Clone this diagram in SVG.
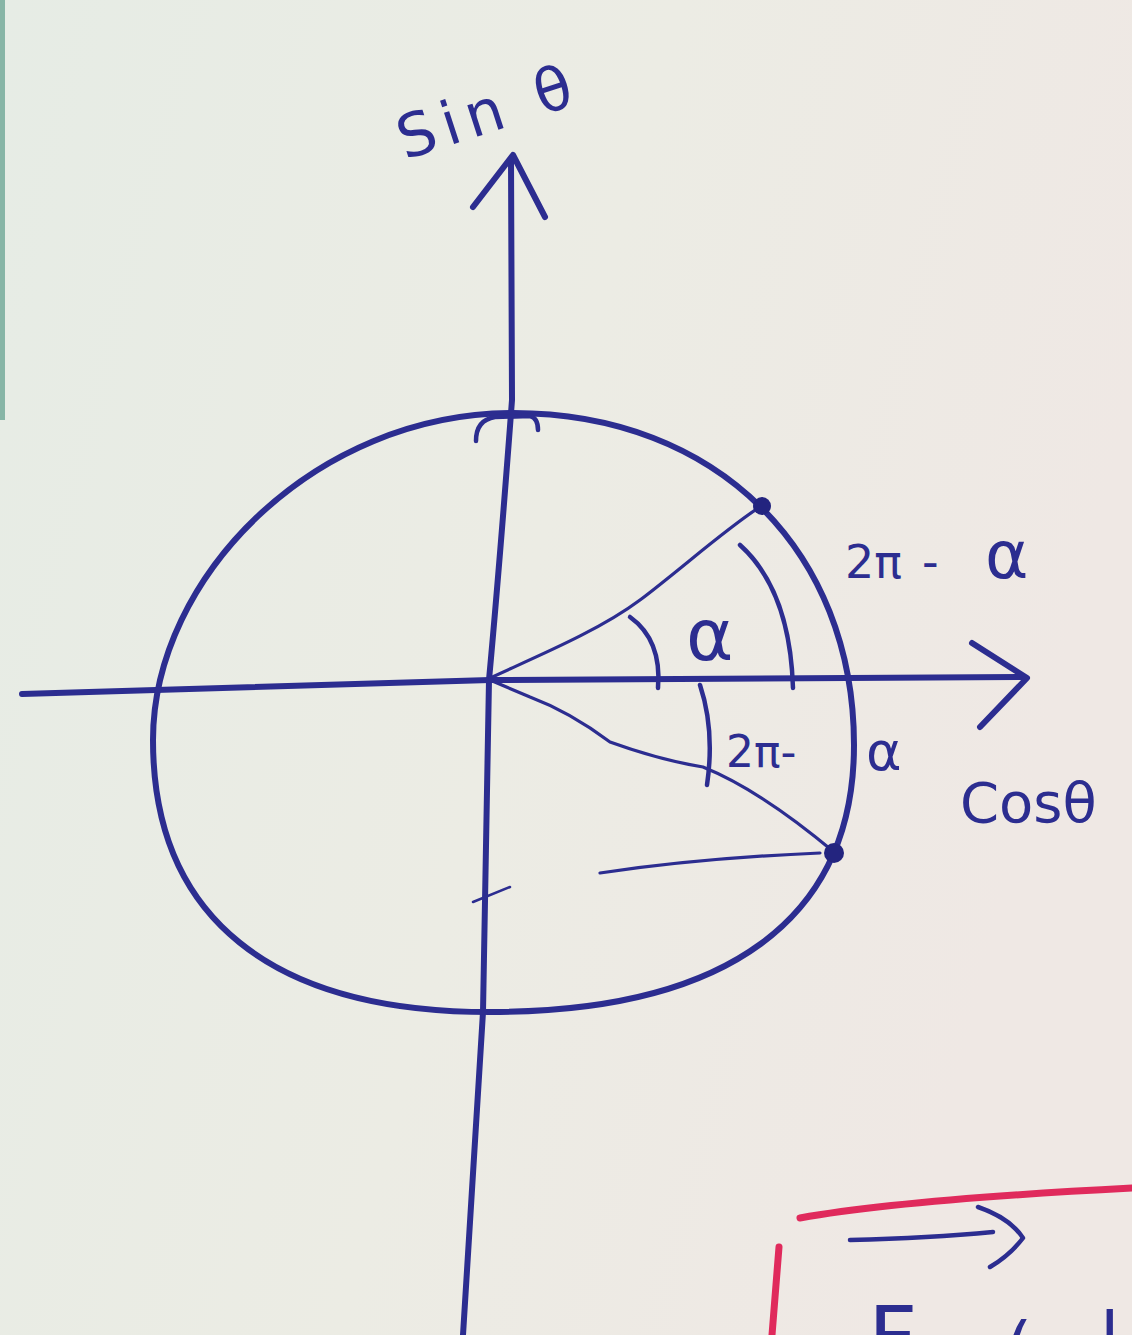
<svg xmlns="http://www.w3.org/2000/svg" width="1132" height="1335" viewBox="0 0 1132 1335">
<defs>
<linearGradient id="paper" x1="0" y1="0" x2="1" y2="0.3">
<stop offset="0" stop-color="#e6ece5"/>
<stop offset="0.55" stop-color="#ecece4"/>
<stop offset="1" stop-color="#efe8e4"/>
</linearGradient>
<style>
.ink{fill:none;stroke:#2c2d90;stroke-linecap:round;stroke-linejoin:round}
.thick{stroke-width:6}
.mid{stroke-width:4.5}
.thin{stroke-width:3.2}
.red{fill:none;stroke:#e02a5c;stroke-width:7;stroke-linecap:round}
.lbl{fill:#2c2d90;font-family:"DejaVu Sans","Liberation Sans",sans-serif}
.dot{fill:#23247f}
</style>
</defs>
<rect width="1132" height="1335" fill="url(#paper)"/>
<rect x="0" y="0" width="5" height="420" fill="#6fa896" opacity="0.8"/>

<g id="connectors">
<g id="y-axis">
<path class="ink thick" d="M511,160 L512,400 Q500,560 489,680 L483,1012 L463,1335"/>
<path class="ink thick" d="M473,207 L513,155 L545,217"/>
</g>
<g id="x-axis">
<path class="ink thick" d="M22,694 L490,680 L1022,677"/>
<path class="ink thick" d="M972,643 L1027,678 L980,727"/>
</g>
<g id="radius-upper">
<path class="ink thin" d="M490,678 C540,655 600,630 640,600 S730,525 763,505"/>
</g>
<g id="radius-lower">
<path class="ink thin" d="M490,680 L530,697 Q570,712 610,742 Q660,760 703,767 Q760,790 834,852"/>
</g>
<g id="projection">
<path class="ink thin" d="M600,873 Q700,858 820,853"/>
<path class="ink" stroke-width="2.5" d="M473,902 L510,887"/>
</g>
</g>

<g id="unit-circle">
<path class="ink thick" d="M513,413 C718,413 854,552 854,745 C854,919 727,1012 490,1012 C271,1012 153,917 153,740 C153,577 315,413 513,413 Z"/>
<path class="ink mid" d="M476,441 Q476,420 495,417 L530,416 Q538,418 538,430"/>
</g>

<g id="angle-arcs">
<path class="ink mid" d="M630,617 Q662,640 658,688"/>
<path class="ink mid" d="M740,545 Q790,590 793,688"/>
<path class="ink mid" d="M700,685 Q715,730 707,785"/>
</g>

<g id="point-upper"><circle class="dot" cx="762" cy="506" r="9"/></g>
<g id="point-lower"><circle class="dot" cx="834" cy="853" r="10"/></g>

<g id="label-sin">
<text class="lbl" font-size="60" letter-spacing="8" transform="rotate(-18 405 160)" x="405" y="160">Sin θ</text>
</g>
<g id="label-cos">
<text class="lbl" font-size="56" x="960" y="822">Cosθ</text>
</g>
<g id="label-alpha">
<text class="lbl" font-size="72" x="686" y="660">α</text>
</g>
<g id="label-2pi-minus-alpha-upper">
<text class="lbl" font-size="46" x="845" y="578">2π<tspan x="922">-</tspan><tspan x="985" font-size="66">α</tspan></text>
</g>
<g id="label-2pi-minus-alpha-lower">
<text class="lbl" font-size="44" x="726" y="767">2π-</text>
<text class="lbl" font-size="54" x="866" y="770">α</text>
</g>

<g id="vector-note">
<path class="red" d="M800,1218 Q900,1200 1132,1188"/>
<path class="red" d="M779,1247 L772,1335"/>
<path class="ink mid" d="M850,1240 Q930,1238 993,1232"/>
<path class="ink mid" d="M978,1207 Q1010,1218 1023,1238 Q1010,1255 990,1267"/>
<text class="lbl" font-size="86" x="868" y="1368">F</text>
<text class="lbl" font-size="70" x="1005" y="1372">(</text>
<text class="lbl" font-size="70" x="1100" y="1362">l</text>
</g>
</svg>
